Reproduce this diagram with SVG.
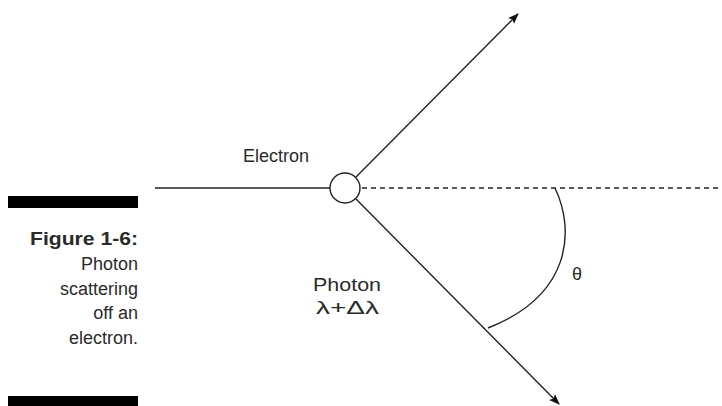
<svg xmlns="http://www.w3.org/2000/svg" width="722" height="406" viewBox="0 0 722 406">
<defs>
<style>
.t{font-family:"Liberation Sans",Arial,sans-serif;font-size:18px;fill:#2a2a2a}
.cap{font-family:"Liberation Sans",Arial,sans-serif;font-size:18px;fill:#2a2a2a;text-anchor:end}
.ln{stroke:#222;stroke-width:1.4;fill:none}
</style>
<marker id="ah" viewBox="0 0 10 10" refX="9" refY="5" markerWidth="11" markerHeight="11" markerUnits="userSpaceOnUse" orient="auto">
<path d="M0,1.2 L10,5 L0,8.8 L2,5 Z" fill="#111"/>
</marker>
</defs>
<rect width="722" height="406" fill="#fff"/>
<g id="caption">
<rect x="8" y="196" width="130" height="12" fill="#000"/>
<rect x="8" y="396" width="130" height="10" fill="#000"/>
<text class="cap" x="138" y="245" font-size="20" font-weight="bold" textLength="108" lengthAdjust="spacingAndGlyphs">Figure 1-6:</text>
<text class="cap" x="138" y="270">Photon</text>
<text class="cap" x="138" y="295">scattering</text>
<text class="cap" x="138" y="319">off an</text>
<text class="cap" x="138" y="344">electron.</text>
</g>
<g id="connectors">
<line class="ln" x1="155" y1="188" x2="330" y2="188"/>
<line class="ln" x1="362" y1="188" x2="722" y2="188" stroke-dasharray="5,4"/>
<line class="ln" x1="356" y1="177" x2="518" y2="14" marker-end="url(#ah)"/>
<line class="ln" x1="356" y1="199" x2="559" y2="404" marker-end="url(#ah)"/>
<path class="ln" d="M555,188 C575,230 572,295 488,328"/>
</g>
<g id="electron">
<circle cx="345" cy="188" r="15" fill="#fff" stroke="#222" stroke-width="1.4"/>
<text class="t" x="243" y="162">Electron</text>
</g>
<g id="photon">
<text class="t" x="313" y="291" font-size="19" textLength="68" lengthAdjust="spacingAndGlyphs">Photon</text>
<text class="t" x="316" y="314" font-size="19" textLength="63" lengthAdjust="spacingAndGlyphs">λ+Δλ</text>
</g>
<g id="angle">
<text class="t" x="572" y="280">θ</text>
</g>
</svg>
